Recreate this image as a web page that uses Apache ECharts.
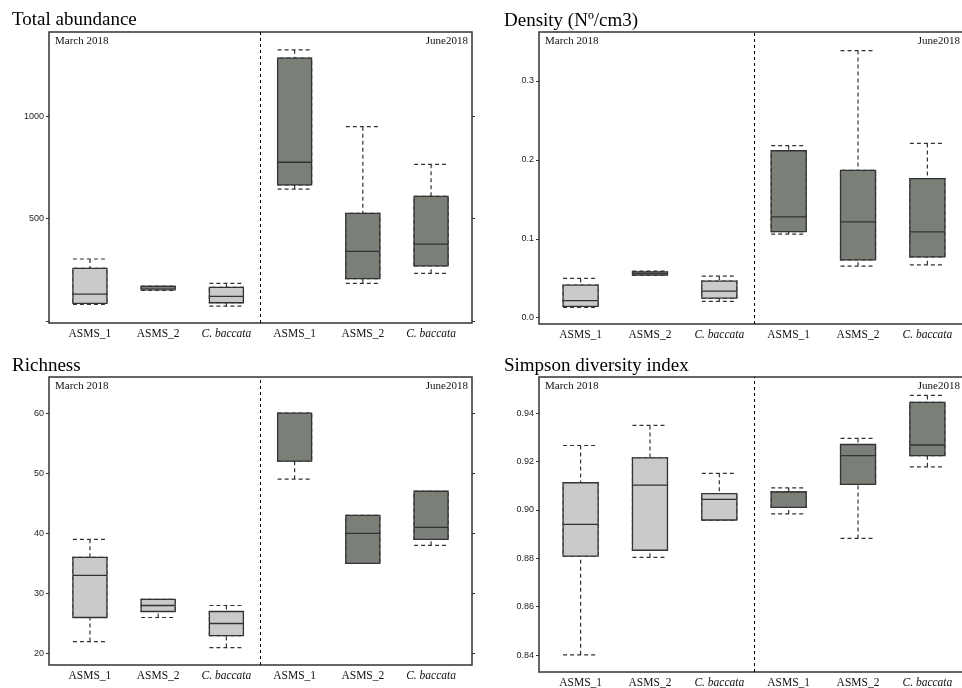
<!DOCTYPE html>
<html>
<head>
<meta charset="utf-8">
<script src="https://cdn.jsdelivr.net/npm/echarts@6/dist/echarts.min.js"></script>
<style>
  html, body { margin: 0; padding: 0; background: #fff; }
  #main { width: 962px; height: 688px; }
</style>
</head>
<body>
<div id="main"></div>
<script>
// groups, left to right (first three = March 2018, last three = June2018)
var categories = ['ASMS_1', 'ASMS_2', 'C. baccata', 'ASMS_1', 'ASMS_2', 'C. baccata'];

// box values: [min, Q1, median, Q3, max]
var abundanceBoxes = [
    [80, 85, 130, 256, 302],
    [149, 151, 160, 168, 170],
    [72, 88, 119, 163, 183],
    [644, 664, 775, 1284, 1325],
    [183, 206, 339, 525, 949],
    [232, 268, 375, 608, 765]
];
var densityBoxes = [
    [0.013, 0.0143, 0.0215, 0.0413, 0.0497],
    [0.0535, 0.054, 0.056, 0.058, 0.059],
    [0.0206, 0.0249, 0.0337, 0.0464, 0.0527],
    [0.1058, 0.1091, 0.1277, 0.2115, 0.2179],
    [0.0653, 0.0733, 0.1214, 0.1867, 0.3384],
    [0.067, 0.0771, 0.1087, 0.1761, 0.2208]
];
var richnessBoxes = [
    [22, 26, 33, 36, 39],
    [26, 27, 28, 29, 29],
    [21, 23, 25, 27, 28],
    [49, 52, 60, 60, 60],
    [35, 35, 40, 43, 43],
    [38, 39, 41, 47, 47]
];
var simpsonBoxes = [
    [0.8401, 0.8809, 0.894, 0.9112, 0.9266],
    [0.8804, 0.8833, 0.9102, 0.9215, 0.9349],
    [0.8957, 0.8958, 0.9043, 0.9067, 0.9151],
    [0.8983, 0.901, 0.9073, 0.9074, 0.9091],
    [0.8882, 0.9105, 0.9224, 0.927, 0.9295],
    [0.9178, 0.9224, 0.9268, 0.9444, 0.9473]
];

// y ticks
var abundanceTicks = [0, 500, 1000];
var abundanceLabels = [500, 1000];
var densityTicks = [0, 0.1, 0.2, 0.3];
var richnessTicks = [20, 30, 40, 50, 60];
var simpsonTicks = [0.84, 0.86, 0.88, 0.90, 0.92, 0.94];

var panels = [
    {title: 'Total abundance', boxes: abundanceBoxes, ticks: abundanceTicks, labels: abundanceLabels, digits: 0,
        yMin: -11, yMax: 1412, left: 49, top: 32, width: 423, height: 291, boxW: 34, titleX: 12, titleY: 11},
    {title: 'Density (Nº/cm3)', boxes: densityBoxes, ticks: densityTicks, labels: densityTicks, digits: 1,
        yMin: -0.008, yMax: 0.362, left: 539, top: 32, width: 430, height: 292, boxW: 35, titleX: 504, titleY: 12},
    {title: 'Richness', boxes: richnessBoxes, ticks: richnessTicks, labels: richnessTicks, digits: 0,
        yMin: 18.1, yMax: 66, left: 49, top: 377, width: 423, height: 288, boxW: 34, titleX: 12, titleY: 357},
    {title: 'Simpson diversity index', boxes: simpsonBoxes, ticks: simpsonTicks, labels: simpsonTicks, digits: 2,
        yMin: 0.833, yMax: 0.9549, left: 539, top: 377, width: 430, height: 295, boxW: 35, titleX: 504, titleY: 357}
];

var marchFill = '#c9cbc8';
var juneFill = '#7a7f78';
var edge = '#333';
var serif = '"Liberation Serif", "DejaVu Serif", serif';
var sans = '"Liberation Sans", Arial, sans-serif';

var grids = [], xAxes = [], yAxes = [], series = [], graphics = [];

panels.forEach(function (p, i) {
    grids.push({left: p.left, top: p.top, width: p.width, height: p.height,
        outerBoundsMode: 'none', containLabel: false,
        show: true, borderColor: edge, borderWidth: 1.5, backgroundColor: 'transparent'});

    // visible x axis (whiskers) + hidden twin (boxes), so boxes are not offset side by side
    xAxes.push({
        type: 'value', gridIndex: i, min: 0.4, max: 6.6,
        axisLine: {show: false}, axisTick: {show: false}, splitLine: {show: false},
        axisLabel: {
            customValues: [1, 2, 3, 4, 5, 6], margin: 5,
            fontFamily: serif, fontSize: 11.5, color: '#111',
            formatter: function (v) {
                var name = categories[Math.round(v) - 1] || '';
                return name.indexOf('C.') === 0 ? '{it|' + name + '}' : name;
            },
            rich: {it: {fontStyle: 'italic', fontFamily: serif, fontSize: 11.5, color: '#111'}}
        }
    });
    xAxes.push({type: 'value', gridIndex: i, min: 0.4, max: 6.6, show: false});

    yAxes.push({
        type: 'value', gridIndex: i, min: p.yMin, max: p.yMax, position: 'left',
        axisLine: {show: false}, splitLine: {show: false},
        axisTick: {show: true, customValues: p.ticks, length: 3, lineStyle: {color: edge}},
        axisLabel: {customValues: p.labels, margin: 5, fontFamily: sans, fontSize: 9, color: '#222',
            formatter: function (v) { return v.toFixed(p.digits); }}
    });
    yAxes.push({
        type: 'value', gridIndex: i, min: p.yMin, max: p.yMax, position: 'right',
        axisLine: {show: false}, splitLine: {show: false},
        axisTick: {show: true, customValues: p.ticks, length: 3, lineStyle: {color: edge}},
        axisLabel: {show: false}
    });

    var whisk = p.boxes.map(function (b, k) { return [k + 1].concat(b); });
    var box = p.boxes.map(function (b, k) {
        return {
            value: [k + 1, b[1], b[1], b[2], b[3], b[3]],
            itemStyle: {color: k < 3 ? marchFill : juneFill}
        };
    });

    series.push({
        type: 'boxplot', xAxisIndex: i * 2, yAxisIndex: i * 2,
        boxWidth: [p.boxW, p.boxW], silent: true,
        itemStyle: {color: 'transparent', borderColor: edge, borderWidth: 1.2, borderType: [4, 3]},
        emphasis: {disabled: true},
        data: whisk,
        markLine: {
            silent: true, symbol: 'none', label: {show: false},
            lineStyle: {color: '#000', type: [3, 3], width: 1},
            emphasis: {disabled: true},
            data: [{xAxis: 3.5}]
        }
    });
    series.push({
        type: 'boxplot', xAxisIndex: i * 2 + 1, yAxisIndex: i * 2,
        boxWidth: [p.boxW, p.boxW], silent: true,
        itemStyle: {borderColor: edge, borderWidth: 1.3},
        emphasis: {disabled: true},
        data: box
    });

    graphics.push({type: 'text', left: p.titleX, top: p.titleY,
        style: {text: p.title, font: '19px ' + serif, fill: '#000'}});
    graphics.push({type: 'text', left: p.left + 6, top: p.top + 4,
        style: {text: 'March 2018', font: '11px ' + serif, fill: '#111'}});
    var rightEnd = i % 2 === 0 ? p.left + p.width - 4 : 960;
    graphics.push({type: 'text', right: 962 - rightEnd, top: p.top + 4,
        style: {text: 'June2018', font: '11px ' + serif, fill: '#111'}});
});

var chart = echarts.init(document.getElementById('main'));
chart.setOption({
    animation: false,
    grid: grids,
    xAxis: xAxes,
    yAxis: yAxes,
    series: series,
    graphic: graphics
});
</script>
</body>
</html>
